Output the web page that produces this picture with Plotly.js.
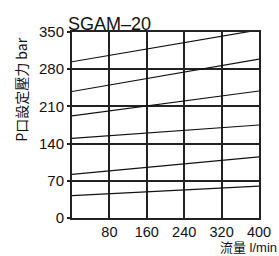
<!DOCTYPE html>
<html><head><meta charset="utf-8">
<script src="https://cdn.plot.ly/plotly-3.0.1.min.js"></script>
<style>body{margin:0;padding:0;background:#fff}#c{width:279px;height:256px}</style>
</head><body><div id="c"></div>
<script>
const flow = [0, 400];
const line1 = [294, 354];
const line2 = [238, 299];
const line3 = [192, 239];
const line4 = [150, 175];
const line5 = [82, 115];
const line6 = [42, 60];
const xTicks = [80, 160, 240, 320, 400];
const yTicks = [0, 70, 140, 210, 280, 350];
const chartTitle = 'SGAM\u201320';
const yTitle = 'P口設定壓力 bar';
const xTitle = '流量 l/min';

const series = [line1, line2, line3, line4, line5, line6];
const traces = series.map(v => ({
  x: flow, y: v, mode: 'lines', type: 'scatter',
  line: {color: '#111', width: 1.2}, hoverinfo: 'skip'
}));
const font = {family: 'Liberation Sans, Arial, sans-serif', size: 15, color: '#111'};
const xfont = {family: 'Liberation Sans, Arial, sans-serif', size: 14.5, color: '#111'};
const cjk = 'Noto Sans CJK TC, Liberation Sans, sans-serif';
Plotly.newPlot('c', traces, {
  width: 279, height: 256,
  margin: {l: 72, r: 20, t: 32, b: 38},
  showlegend: false,
  paper_bgcolor: '#fff', plot_bgcolor: '#fff',
  font: font,
  xaxis: {range: [0, 400], tickvals: xTicks, ticktext: xTicks.map(String),
    showgrid: true, gridcolor: '#222', gridwidth: 2,
    showline: true, linecolor: '#222', linewidth: 2, mirror: true,
    ticks: '', zeroline: false, tickfont: xfont, fixedrange: true},
  yaxis: {range: [0, 350], tickvals: yTicks, ticktext: yTicks.map(String),
    showgrid: true, gridcolor: '#222', gridwidth: 2,
    showline: true, linecolor: '#222', linewidth: 2, mirror: true,
    ticks: 'outside', ticklen: 3, tickwidth: 2, tickcolor: '#222',
    zeroline: false, tickfont: font, fixedrange: true},
  annotations: [
    {text: chartTitle, xref: 'paper', yref: 'paper', x: 0, y: 1, xanchor: 'left', yanchor: 'bottom',
     xshift: -6, yshift: -4, showarrow: false, font: {family: 'Liberation Sans, Arial, sans-serif', size: 18, color: '#111'}},
    {text: xTitle, xref: 'paper', yref: 'paper', x: 1, y: 0, xanchor: 'right', yanchor: 'top',
     xshift: 19, yshift: -21, borderpad: 0, showarrow: false, font: {family: 'Liberation Sans, Noto Sans CJK TC, sans-serif', size: 13, color: '#111'}},
    {text: yTitle, xref: 'paper', yref: 'paper', x: 0, y: 0.69, xanchor: 'center', yanchor: 'middle',
     xshift: -51, textangle: -90, showarrow: false, font: {family: cjk, size: 14, color: '#111'}}
  ]
}, {staticPlot: true});
</script></body></html>
